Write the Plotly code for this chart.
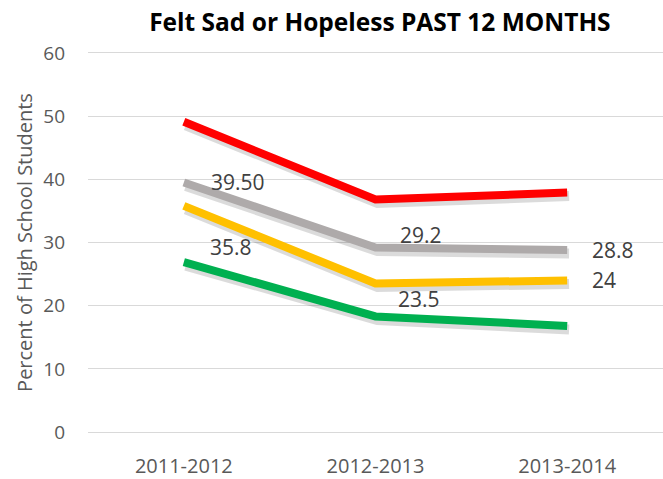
import plotly.graph_objects as go

categories = ["2011-2012", "2012-2013", "2013-2014"]
red_vals = [49.1, 36.8, 37.9]
gray_vals = [39.5, 29.2, 28.8]
yellow_vals = [35.8, 23.5, 24.0]
green_vals = [26.9, 18.3, 16.8]

gray_labels = ["39.50", "29.2", "28.8"]
yellow_labels = ["35.8", "23.5", "24"]

series = [
    ("red", red_vals, "#FF0000"),
    ("gray", gray_vals, "#AEAAAA"),
    ("yellow", yellow_vals, "#FFC000"),
    ("green", green_vals, "#00B050"),
]

FONT = "Open Sans, Lato, sans-serif"
TXT = "#595959"
XR = [-0.5, 2.5]
YR = [-0.3, 60.3]
fig = go.Figure()

# soft drop shadows on a slightly shifted overlay axis (drawn below the lines)
for name, vals, col in series:
    fig.add_trace(go.Scatter(
        x=[0, 1, 2], y=vals, mode="lines", xaxis="x2", yaxis="y2",
        line=dict(color="rgba(0,0,0,0.14)", width=10), hoverinfo="skip", showlegend=False))

# the actual lines, on an overlay with the same scale as the main axes
for name, vals, col in series:
    fig.add_trace(go.Scatter(
        x=[0, 1, 2], y=vals, mode="lines", name=name, xaxis="x3", yaxis="y3",
        line=dict(color=col, width=8), showlegend=False))

ann = []
gray_shift = [(25, 0), (22, 13), (23, 0)]
yellow_shift = [(24, -41), (20, -15), (23, 0)]
for i in range(3):
    ann.append(dict(x=i, y=gray_vals[i], text=gray_labels[i], xref="x", yref="y",
                    showarrow=False, xanchor="left", yanchor="middle",
                    xshift=gray_shift[i][0], yshift=gray_shift[i][1],
                    font=dict(family=FONT, size=21, color="#404040")))
    ann.append(dict(x=i, y=yellow_vals[i], text=yellow_labels[i], xref="x", yref="y",
                    showarrow=False, xanchor="left", yanchor="middle",
                    xshift=yellow_shift[i][0], yshift=yellow_shift[i][1],
                    font=dict(family=FONT, size=21, color="#404040")))

fig.update_layout(
    width=663, height=479,
    margin=dict(l=88, r=0, t=51, b=41),
    plot_bgcolor="white", paper_bgcolor="white",
    title=dict(text="<b>Felt Sad or Hopeless PAST 12 MONTHS</b>", x=0.573, xanchor="center",
               y=0.953, yanchor="middle",
               font=dict(family=FONT, size=24.5, color="#000000")),
    xaxis=dict(range=XR, tickmode="array", tickvals=[0, 1, 2], ticktext=categories,
               showgrid=False, zeroline=False, showline=False, ticks="",
               tickfont=dict(family=FONT, size=20, color=TXT), ticklabelstandoff=18),
    yaxis=dict(range=YR, tickvals=[0, 10, 20, 30, 40, 50, 60],
               showgrid=True, gridcolor="#D9D9D9", gridwidth=1,
               zeroline=False, showline=False, ticks="",
               tickfont=dict(family=FONT, size=19, color=TXT), ticklabelstandoff=22,
               title=dict(text="Percent of High School Students",
                          font=dict(family=FONT, size=20, color=TXT), standoff=5)),
    xaxis2=dict(range=[XR[0] - 0.01, XR[1] - 0.01], overlaying="x", visible=False),
    yaxis2=dict(range=[YR[0] + 0.55, YR[1] + 0.55], overlaying="y", visible=False),
    xaxis3=dict(range=XR, overlaying="x", visible=False),
    yaxis3=dict(range=YR, overlaying="y", visible=False),
    annotations=ann,
)

fig.write_html("out.html", config={"displayModeBar": False},
               post_script="document.body.style.margin='0';")
